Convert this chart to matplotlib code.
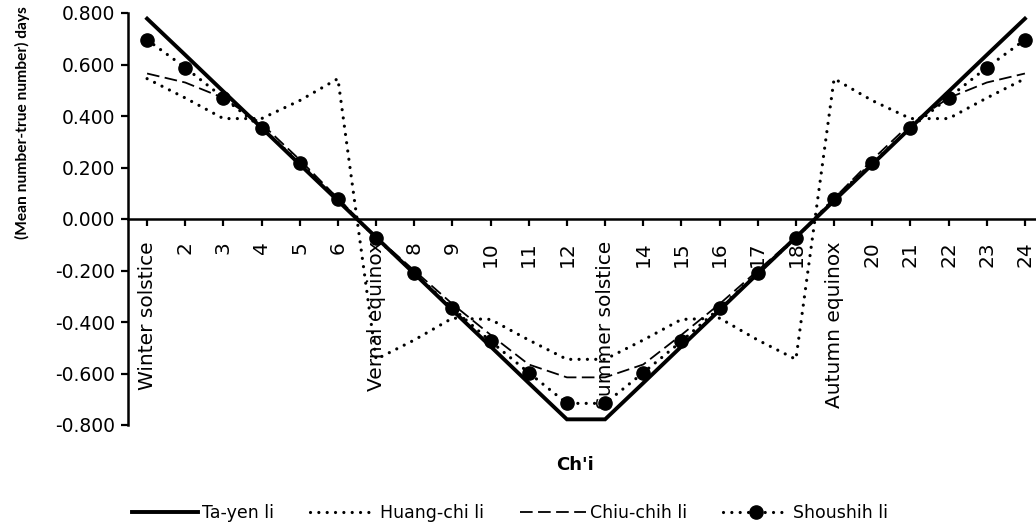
import matplotlib
matplotlib.use("Agg")
import matplotlib.pyplot as plt
from matplotlib.ticker import FixedLocator, FormatStrFormatter

plt.rcParams['font.family'] = ['DejaVu Sans']

categories = ['Winter solstice', '2', '3', '4', '5', '6',
              'Vernal equinox', '8', '9', '10', '11', '12',
              'Summer solstice', '14', '15', '16', '17', '18',
              'Autumn equinox', '20', '21', '22', '23', '24']

ta_yen = [0.778, 0.637, 0.495, 0.354, 0.212, 0.071,
          -0.071, -0.212, -0.354, -0.495, -0.637, -0.778,
          -0.778, -0.637, -0.495, -0.354, -0.212, -0.071,
          0.071, 0.212, 0.354, 0.495, 0.637, 0.778]

huang_chi = [0.545, 0.47, 0.39, 0.39, 0.46, 0.545,
             -0.545, -0.47, -0.385, -0.39, -0.47, -0.545,
             -0.545, -0.47, -0.39, -0.385, -0.47, -0.545,
             0.545, 0.46, 0.39, 0.39, 0.47, 0.545]

chiu_chih = [0.565, 0.53, 0.47, 0.37, 0.23, 0.08,
             -0.07, -0.20, -0.33, -0.45, -0.565, -0.615,
             -0.615, -0.565, -0.45, -0.33, -0.20, -0.07,
             0.08, 0.23, 0.37, 0.47, 0.53, 0.565]

shoushih = [0.696, 0.588, 0.471, 0.354, 0.218, 0.078,
            -0.074, -0.210, -0.346, -0.475, -0.597, -0.716,
            -0.716, -0.597, -0.475, -0.346, -0.210, -0.074,
            0.078, 0.218, 0.354, 0.471, 0.588, 0.696]

y_ticks = [-0.8, -0.6, -0.4, -0.2, 0.0, 0.2, 0.4, 0.6, 0.8]

W, H = 1036, 531
fig = plt.figure(figsize=(W / 100, H / 100), dpi=100)
left_px, right_px, top_px, bottom_px = 128, 1044, 13, 425
ax = fig.add_axes([left_px / W, (H - bottom_px) / H,
                   (right_px - left_px) / W, (bottom_px - top_px) / H])

x = list(range(1, len(categories) + 1))
dot = (0, (0.01, 2.6))

ax.plot(x, ta_yen, color='black', lw=2.8, solid_joinstyle='miter',
        label='Ta-yen li', zorder=3)
ax.plot(x, huang_chi, color='black', lw=2.3, linestyle=dot,
        dash_capstyle='round', label='Huang-chi li', zorder=3)
ax.plot(x, chiu_chih, color='black', lw=1.3, linestyle=(0, (7, 3)),
        label='Chiu-chih li', zorder=3)
ax.plot(x, shoushih, color='black', lw=2.3, linestyle=dot,
        dash_capstyle='round', marker='o', markersize=9.5,
        label='Shoushih li', zorder=4)

ax.set_xlim(0.5, 24.5)
ax.set_ylim(-0.8, 0.8)

for s in ('top', 'right'):
    ax.spines[s].set_visible(False)
ax.spines['left'].set_linewidth(1.8)
ax.spines['bottom'].set_linewidth(1.8)
ax.spines['bottom'].set_position(('data', 0))

ax.yaxis.set_major_locator(FixedLocator(y_ticks))
ax.yaxis.set_major_formatter(FormatStrFormatter('%.3f'))
ax.tick_params(axis='y', direction='out', length=5, width=1.6,
               labelsize=13.5, pad=4)

ax.set_xticks(x)
ax.set_xticklabels(categories, rotation=90, va='top', ha='center')
ax.tick_params(axis='x', direction='out', length=5, width=1.6,
               labelsize=14.5, pad=11)

fig.text(22 / W, 1 - 123 / H, '(Mean number-true number) days',
         rotation=90, ha='center', va='center', fontsize=11.2,
         fontweight='bold', family='Lato')

fig.text(575 / W, 1 - 465 / H, "Ch'i", ha='center', va='center',
         fontsize=13, fontweight='bold')

fig.legend(loc='center', bbox_to_anchor=(510 / W, 1 - 513 / H),
           ncol=4, frameon=False, fontsize=12.5, handlelength=3.8,
           handletextpad=0.2, columnspacing=2.1)

fig.savefig('out.png', dpi=100)
